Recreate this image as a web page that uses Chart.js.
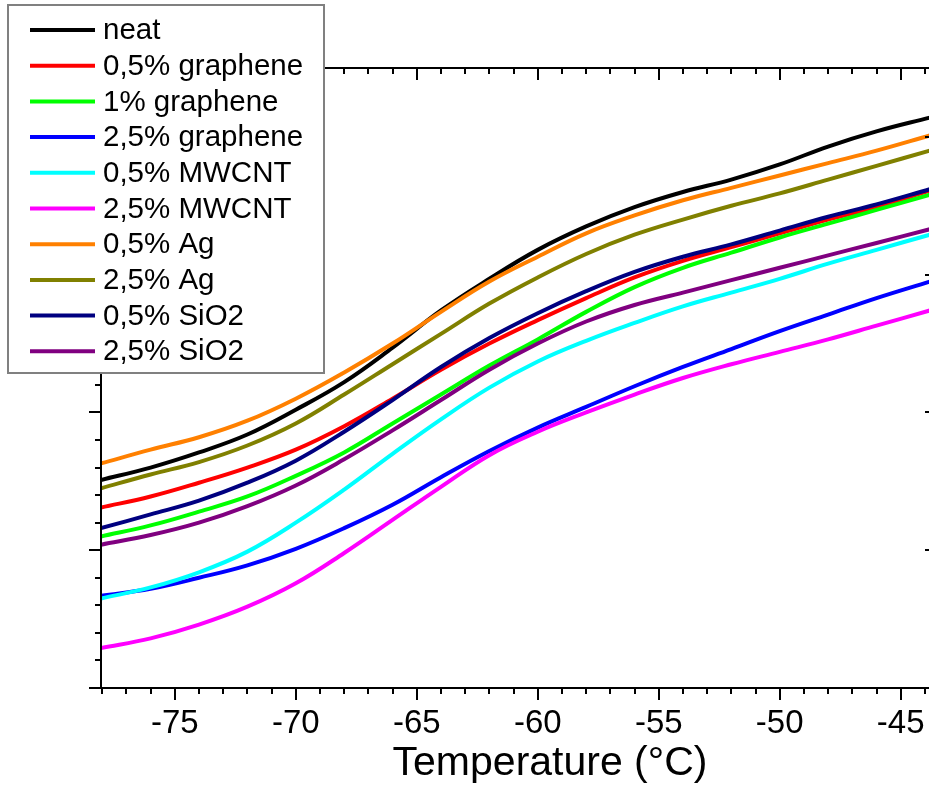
<!DOCTYPE html>
<html>
<head>
<meta charset="utf-8">
<script src="https://cdn.jsdelivr.net/npm/chart.js@4"></script>
<style>
  html, body { margin: 0; padding: 0; background: #fff; overflow: hidden; }
  #wrap { width: 929px; height: 787px; overflow: hidden; }
</style>
</head>
<body>
<div id="wrap"><canvas id="dscChart" width="945" height="787"></canvas></div>
<script>
// temperature grid (°C)
var temps = [-78.05, -76, -74, -72, -70, -68, -66, -64, -62, -60, -58, -56, -54, -52, -50, -48, -46, -43.8];

// curves, arbitrary heat flow units (y axis has no labels)
var neat       = [1.51, 1.60, 1.71, 1.84, 2.02, 2.22, 2.47, 2.74, 2.97, 3.18, 3.35, 3.49, 3.60, 3.69, 3.80, 3.93, 4.04, 4.14];
var graphene05 = [1.31, 1.39, 1.49, 1.60, 1.73, 1.90, 2.10, 2.31, 2.50, 2.67, 2.83, 2.98, 3.10, 3.20, 3.30, 3.40, 3.49, 3.61];
var graphene1  = [1.10, 1.18, 1.28, 1.39, 1.54, 1.71, 1.92, 2.13, 2.34, 2.53, 2.73, 2.91, 3.05, 3.16, 3.27, 3.37, 3.47, 3.58];
var graphene25 = [0.67, 0.72, 0.80, 0.89, 1.01, 1.16, 1.33, 1.53, 1.72, 1.89, 2.04, 2.19, 2.33, 2.46, 2.59, 2.71, 2.83, 2.95];
var mwcnt05    = [0.65, 0.73, 0.84, 0.99, 1.20, 1.44, 1.70, 1.95, 2.18, 2.37, 2.52, 2.65, 2.77, 2.87, 2.97, 3.08, 3.18, 3.29];
var mwcnt25    = [0.29, 0.36, 0.46, 0.59, 0.76, 0.98, 1.22, 1.46, 1.69, 1.86, 2.00, 2.13, 2.25, 2.35, 2.44, 2.53, 2.63, 2.74];
var ag05       = [1.63, 1.73, 1.82, 1.94, 2.10, 2.29, 2.50, 2.73, 2.95, 3.13, 3.30, 3.43, 3.54, 3.63, 3.72, 3.81, 3.90, 4.01];
var ag25       = [1.45, 1.55, 1.64, 1.76, 1.92, 2.13, 2.35, 2.57, 2.79, 2.98, 3.15, 3.29, 3.40, 3.50, 3.59, 3.69, 3.79, 3.90];
var sio205     = [1.16, 1.26, 1.36, 1.49, 1.65, 1.86, 2.09, 2.33, 2.54, 2.72, 2.88, 3.02, 3.13, 3.22, 3.32, 3.42, 3.51, 3.62];
var sio225     = [1.04, 1.11, 1.20, 1.32, 1.47, 1.66, 1.87, 2.09, 2.31, 2.50, 2.66, 2.78, 2.87, 2.96, 3.05, 3.14, 3.23, 3.33];

var seriesNames = ["neat", "0,5% graphene", "1% graphene", "2,5% graphene", "0,5% MWCNT",
                   "2,5% MWCNT", "0,5% Ag", "2,5% Ag", "0,5% SiO2", "2,5% SiO2"];
var seriesData = [neat, graphene05, graphene1, graphene25, mwcnt05, mwcnt25, ag05, ag25, sio205, sio225];
var seriesColors = ["#000000", "#ff0000", "#00ff00", "#0000ff", "#00ffff",
                    "#ff00ff", "#ff8000", "#808000", "#000080", "#800080"];

var xTicks = [-75, -70, -65, -60, -55, -50, -45];
var xRange = [-78.05, -43.5];
var yRange = [0, 4.5];

var datasets = seriesData.map(function (vals, i) {
    return {
        label: seriesNames[i],
        data: vals.map(function (v, j) { return {x: temps[j], y: v}; }),
        borderColor: seriesColors[i],
        borderWidth: 4,
        pointRadius: 0,
        fill: false,
        tension: 0.4,
        order: seriesData.length - i   // later series drawn on top
    };
});

function seg(c, x1, y1, x2, y2) {
    c.beginPath(); c.moveTo(x1, y1); c.lineTo(x2, y2); c.stroke();
}

// axis frame with mirrored ticks, legend box and axis title
var decorations = {
    id: 'decorations',
    afterDraw: function (chart) {
        var c = chart.ctx, a = chart.chartArea;
        var xs = chart.scales.x, ys = chart.scales.y;
        c.save();
        c.strokeStyle = '#000';
        c.lineWidth = 2;
        c.strokeRect(a.left, a.top, a.right - a.left, a.bottom - a.top);

        for (var t = Math.ceil(xs.min); t <= xs.max; t++) {
            var px = Math.round(xs.getPixelForValue(t));
            var len = (t % 5 === 0) ? 12 : 6;
            seg(c, px, a.bottom, px, a.bottom + len);
            seg(c, px, a.top, px, a.top + len);
        }
        for (var k = 0; k * 0.2 <= ys.max; k++) {
            var py = Math.round(ys.getPixelForValue(k * 0.2));
            var l2 = (k % 5 === 0) ? 12 : 6;
            seg(c, a.left - l2, py, a.left, py);
            seg(c, a.right - l2, py, a.right, py);
        }

        // legend
        c.fillStyle = '#fff';
        c.fillRect(8, 5, 316, 368);
        c.strokeStyle = '#808080';
        c.lineWidth = 2;
        c.strokeRect(8, 5, 316, 368);
        c.font = '29.5px "Liberation Sans", Arial, sans-serif';
        c.textBaseline = 'middle';
        c.textAlign = 'left';
        seriesNames.forEach(function (name, i) {
            var y = 30 + i * 35.7;
            c.strokeStyle = seriesColors[i];
            c.lineWidth = 4;
            seg(c, 30, y, 95, y);
            c.fillStyle = '#000';
            c.fillText(name, 103, y + 1);
        });

        // x axis title
        c.font = '41px "Liberation Sans", Arial, sans-serif';
        c.textAlign = 'center';
        c.textBaseline = 'alphabetic';
        c.fillStyle = '#000';
        c.fillText('Temperature (°C)', 550, 775);
        c.restore();
    }
};

new Chart(document.getElementById('dscChart'), {
    type: 'line',
    data: { datasets: datasets },
    options: {
        responsive: false,
        animation: false,
        devicePixelRatio: 1,
        layout: { padding: { left: 101, top: 68, right: 8, bottom: 0 } },
        plugins: { legend: { display: false }, tooltip: { enabled: false } },
        scales: {
            x: {
                type: 'linear',
                min: xRange[0],
                max: xRange[1],
                afterBuildTicks: function (s) { s.ticks = xTicks.map(function (v) { return {value: v}; }); },
                afterFit: function (s) { s.height = 99; },
                grid: { display: false, drawTicks: false },
                border: { display: false },
                ticks: {
                    color: '#000',
                    padding: 16,
                    maxRotation: 0,
                    autoSkip: false,
                    font: { family: '"Liberation Sans", Arial, sans-serif', size: 33 }
                }
            },
            y: {
                type: 'linear',
                min: yRange[0],
                max: yRange[1],
                display: false
            }
        }
    },
    plugins: [decorations]
});
</script>
</body>
</html>
